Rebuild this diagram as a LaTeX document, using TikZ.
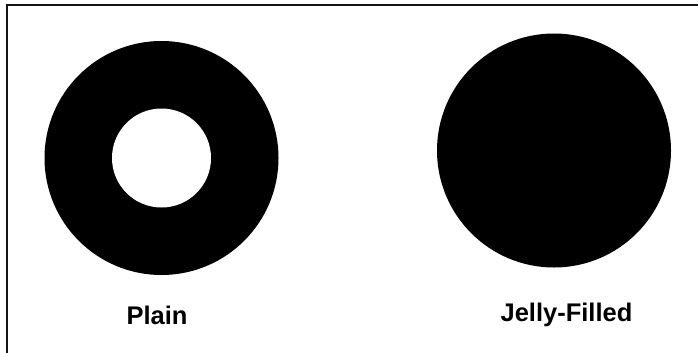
\documentclass[tikz,border=0pt]{standalone}
\usepackage{fontspec}
\setmainfont{Liberation Sans}
\usetikzlibrary{positioning}
\definecolor{DNframe}{RGB}{20,20,20}
\tikzset{
  dough/.style={circle,fill=black,draw=none,minimum size=234pt,inner sep=0pt},
  hole/.style={circle,fill=white,draw=none,minimum size=99pt,inner sep=0pt},
  tag/.style={font=\fontsize{25.5}{28}\selectfont\bfseries,text=black,inner sep=0pt},
  frame/.style={draw=DNframe,line width=1.5pt}
}
\begin{document}
\begin{tikzpicture}[x=1pt,y=-1pt]
  \useasboundingbox (0,0) rectangle (698,353);
  \fill[white] (0,0) rectangle (698,353);
  \draw[frame] (7,353) -- (7,5) -- (698,5);
  % plain one
  \node[dough] (plain) at (161.5,158) {};
  \node[hole] (plainhole) at (plain.center) {};
  \node[tag] (plainlbl) at (157,315) {Plain};
  % filled one
  \node[dough] (jelly) at (554,150.5) {};
  \node[tag] (jellylbl) at (566.5,315) {Jelly-Filled};
\end{tikzpicture}
\end{document}
